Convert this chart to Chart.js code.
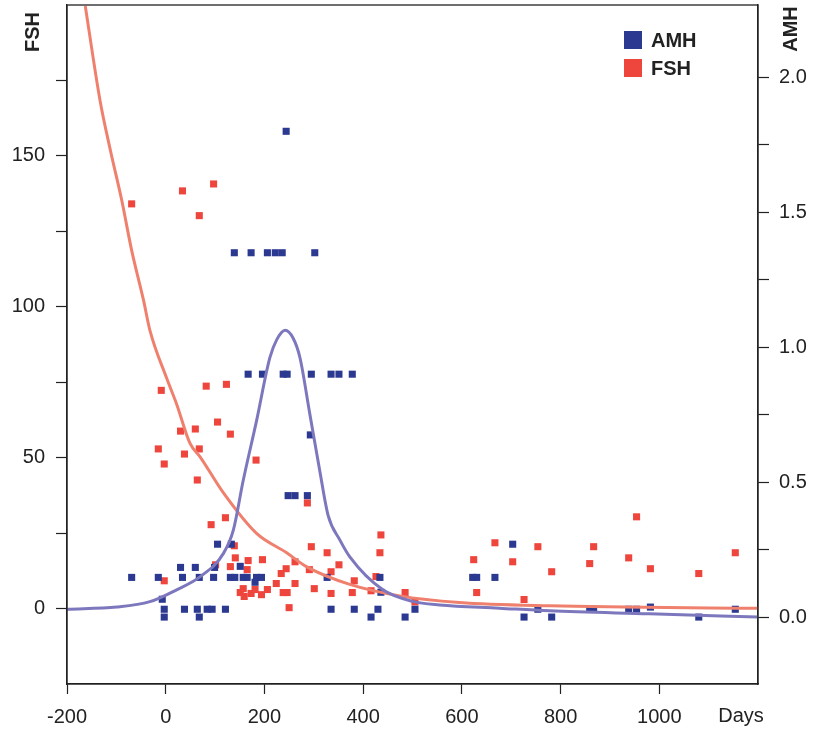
<!DOCTYPE html>
<html>
<head>
<meta charset="utf-8">
<title>FSH and AMH over days</title>
<script src="https://cdn.jsdelivr.net/npm/chart.js@4.4.1/dist/chart.umd.min.js"></script>
<style>
  body { margin: 0; background: #fff; }
  #wrap { width: 819px; height: 730px; }
</style>
</head>
<body>
<div id="wrap"><canvas id="chart" width="819" height="730"></canvas></div>
<script>
// ---- data ----
const fshDays = [-69, 34, 97, 68, -9, 82, 123, 105, 30, 60, 131, -15, 38, 68, -3, 183, 64, 287, 121, 92,
  139, 295, 327, 141, 167, 196, 101, 131, 165, 244, 262, 291, 351, 335, 234, -3, 224, 262, 157, 181,
  206, 301, 151, 173, 194, 238, 246, 159, 335, 378, 250, 382, 436, 434, 416, 426, 485, 505, 624, 667,
  630, 703, 754, 726, 782, 859, 867, 954, 938, 982, 1080, 1154];
const fshValues = [134.1, 138.4, 140.7, 130.2, 72.3, 73.7, 74.3, 61.8, 58.8, 59.5, 57.8, 52.9, 51.2, 52.9, 47.9, 49.2, 42.6, 35.0, 30.1, 27.8,
  20.8, 20.5, 18.5, 16.8, 15.9, 16.2, 14.5, 13.9, 12.9, 13.2, 15.5, 12.9, 14.5, 12.2, 11.6, 9.2, 8.3, 8.3, 6.6, 6.3,
  6.3, 6.6, 5.3, 5.0, 4.6, 5.3, 5.3, 4.0, 5.0, 5.3, 0.3, 9.2, 24.4, 18.5, 5.9, 10.6, 5.3, 2.2, 16.2, 21.8,
  5.3, 15.5, 20.5, 3.0, 12.2, 14.9, 20.5, 30.4, 16.8, 13.2, 11.6, 18.5];

const amhDays = [244,
  139, 173, 206, 222, 236, 302,
  167, 196, 238, 246, 295, 335, 351, 378,
  293,
  248, 262, 287,
  105, 133, 703,
  30, 60, 99, 151,
  -69, -15, 34, 68, 97, 131, 140, 157, 165, 184, 194, 327, 434, 622, 630, 667,
  181, 436, -7,
  -3, 38, 64, 84, 94, 121, 335, 382, 430, 505, 754, 859, 867, 938, 954, 1154, 982,
  -3, 68, 416, 485, 726, 782, 1080];
const amhValues = [1.80,
  1.35, 1.35, 1.35, 1.35, 1.35, 1.35,
  0.90, 0.90, 0.90, 0.90, 0.90, 0.90, 0.90, 0.90,
  0.675,
  0.45, 0.45, 0.45,
  0.27, 0.27, 0.27,
  0.184, 0.184, 0.184, 0.188,
  0.147, 0.147, 0.147, 0.147, 0.147, 0.147, 0.147, 0.147, 0.147, 0.147, 0.147, 0.147, 0.147, 0.147, 0.147, 0.147,
  0.129, 0.092, 0.066,
  0.029, 0.029, 0.029, 0.029, 0.029, 0.029, 0.029, 0.029, 0.029, 0.029, 0.029, 0.029, 0.029, 0.029, 0.029, 0.029, 0.037,
  0, 0, 0, 0, 0, 0, 0];

// fitted curves as drawn in the figure
const fshCurveDays = [-163, -133, -112, -89, -69, -45, -32, 2, 22, 49, 70, 117, 184, 245, 285, 373, 474, 595, 778, 1199];
const fshCurveValues = [199.7, 168.3, 151.8, 135.2, 118.7, 102.2, 92.2, 76.3, 67.8, 54.8, 50.2, 38.3, 24.9, 18.5, 13.9, 8.0, 4.2, 2.0, 0.9, 0.1];
const amhCurveDays = [-200, -99, -32, 22, 70, 117, 137, 157, 184, 211, 225, 242, 258, 272, 292, 312, 329, 353, 373, 440, 501, 555, 676, 778, 980, 1199];
const amhCurveValues = [0.029, 0.037, 0.057, 0.101, 0.150, 0.236, 0.322, 0.506, 0.727, 0.961, 1.028, 1.063, 1.034, 0.961, 0.752, 0.543, 0.377, 0.285, 0.223, 0.101, 0.058, 0.045, 0.033, 0.023, 0.012, 0.0];

const dayTicks = [-200, 0, 200, 400, 600, 800, 1000];
const fshTicks = [0, 25, 50, 75, 100, 125, 150, 175];
const amhTicks = [0, 0.25, 0.5, 0.75, 1.0, 1.25, 1.5, 1.75, 2.0];

const BLUE = '#2b3990';
const RED = '#ee463d';
const AMH_LINE = '#7d78be';
const FSH_LINE = '#f0806e';
const INK = '#222';
const FONT = "'Liberation Sans', Arial, Helvetica, sans-serif";

function toPoints(xs, ys) {
  return xs.map((x, i) => ({ x: x, y: ys[i] }));
}

// keep the plot box where the figure has it
function fixWidth(w) {
  return (scale) => {
    scale.width = w;
    scale.paddingTop = 0;
    scale.paddingBottom = 0;
  };
}

// box, side titles, "Days" and the legend
const decorations = {
  id: 'decorations',
  afterDraw(chart) {
    const { ctx, chartArea } = chart;
    ctx.save();
    ctx.strokeStyle = INK;
    ctx.lineWidth = 1.3;
    ctx.strokeRect(chartArea.left, chartArea.top, chartArea.right - chartArea.left, chartArea.bottom - chartArea.top);

    ctx.fillStyle = INK;
    ctx.font = 'bold 20px ' + FONT;
    ctx.textAlign = 'center';
    ctx.textBaseline = 'middle';
    ctx.save();
    ctx.translate(33, 32);
    ctx.rotate(-Math.PI / 2);
    ctx.fillText('FSH', 0, 0);
    ctx.restore();
    ctx.save();
    ctx.translate(791, 29);
    ctx.rotate(-Math.PI / 2);
    ctx.fillText('AMH', 0, 0);
    ctx.restore();

    ctx.font = '20px ' + FONT;
    ctx.textBaseline = 'alphabetic';
    ctx.fillText('Days', 741, 722);

    // legend
    ctx.fillStyle = BLUE;
    ctx.fillRect(624, 31, 18, 18);
    ctx.fillStyle = RED;
    ctx.fillRect(624, 59, 18, 18);
    ctx.fillStyle = INK;
    ctx.font = 'bold 20px ' + FONT;
    ctx.textAlign = 'left';
    ctx.textBaseline = 'middle';
    ctx.fillText('AMH', 651, 41);
    ctx.fillText('FSH', 651, 69);
    ctx.restore();
  }
};

const tickFont = { family: FONT, size: 20 };

new Chart(document.getElementById('chart'), {
  type: 'scatter',
  data: {
    datasets: [
      {
        label: 'AMH curve',
        data: toPoints(amhCurveDays, amhCurveValues),
        yAxisID: 'y1',
        showLine: true,
        pointRadius: 0,
        borderColor: AMH_LINE,
        borderWidth: 3,
        cubicInterpolationMode: 'monotone',
        order: 0
      },
      {
        label: 'FSH curve',
        data: toPoints(fshCurveDays, fshCurveValues),
        yAxisID: 'y',
        showLine: true,
        pointRadius: 0,
        borderColor: FSH_LINE,
        borderWidth: 3,
        cubicInterpolationMode: 'monotone',
        order: 1
      },
      {
        label: 'AMH',
        data: toPoints(amhDays, amhValues),
        yAxisID: 'y1',
        pointStyle: 'rect',
        pointRadius: 5,
        pointBorderWidth: 0,
        backgroundColor: BLUE,
        borderColor: BLUE,
        order: 2
      },
      {
        label: 'FSH',
        data: toPoints(fshDays, fshValues),
        yAxisID: 'y',
        pointStyle: 'rect',
        pointRadius: 5,
        pointBorderWidth: 0,
        backgroundColor: RED,
        borderColor: RED,
        order: 3
      }
    ]
  },
  options: {
    responsive: false,
    animation: false,
    layout: { padding: { top: 5, left: 0, right: 0, bottom: 0 } },
    plugins: {
      legend: { display: false },
      tooltip: { enabled: false }
    },
    scales: {
      x: {
        type: 'linear',
        min: -200,
        max: 1200,
        afterBuildTicks: (scale) => { scale.ticks = dayTicks.map(v => ({ value: v })); },
        afterFit: (scale) => { scale.height = 46; },
        border: { display: true, color: INK, width: 1.3 },
        grid: { drawOnChartArea: false, drawTicks: true, tickLength: 10, color: INK, tickWidth: 1.2 },
        ticks: {
          autoSkip: false,
          maxRotation: 0,
          padding: 11,
          color: INK,
          font: tickFont,
          callback: (v) => String(v)
        }
      },
      y: {
        type: 'linear',
        position: 'left',
        min: -25,
        max: 200,
        afterBuildTicks: (scale) => { scale.ticks = fshTicks.map(v => ({ value: v })); },
        afterFit: fixWidth(67),
        border: { display: true, color: INK, width: 1.3 },
        grid: { drawOnChartArea: false, drawTicks: true, tickLength: 11, color: INK, tickWidth: 1.2 },
        ticks: {
          autoSkip: false,
          padding: 11,
          color: INK,
          font: tickFont,
          callback: (v) => (v % 50 === 0 ? String(v) : '')
        }
      },
      y1: {
        type: 'linear',
        position: 'right',
        min: -0.248,
        max: 2.268,
        afterBuildTicks: (scale) => { scale.ticks = amhTicks.map(v => ({ value: v })); },
        afterFit: fixWidth(61),
        border: { display: true, color: INK, width: 1.3 },
        grid: { drawOnChartArea: false, drawTicks: true, tickLength: 11, color: INK, tickWidth: 1.2 },
        ticks: {
          autoSkip: false,
          padding: 10,
          color: INK,
          font: tickFont,
          callback: (v) => (Math.abs(v * 2 - Math.round(v * 2)) < 1e-9 ? v.toFixed(1) : '')
        }
      }
    }
  },
  plugins: [decorations]
});
</script>
</body>
</html>
